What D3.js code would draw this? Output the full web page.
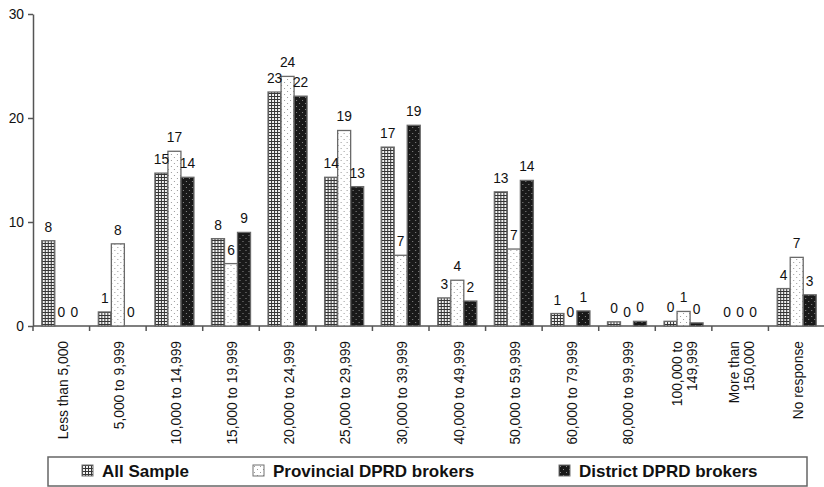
<!DOCTYPE html>
<html>
<head>
<meta charset="utf-8">
<script src="https://cdn.jsdelivr.net/npm/d3@7"></script>
<style>
  body { margin: 0; background: #fff; }
  svg { display: block; font-family: "Liberation Sans", Arial, sans-serif; }
</style>
</head>
<body>
<div id="chart"></div>
<script>
'use strict';

// income bands (rotated tick labels, \n = line break)
const categories = [
    'Less than 5,000', '5,000 to 9,999', '10,000 to 14,999', '15,000 to 19,999',
    '20,000 to 24,999', '25,000 to 29,999', '30,000 to 39,999', '40,000 to 49,999',
    '50,000 to 59,999', '60,000 to 79,999', '80,000 to 99,999', '100,000 to\n149,999',
    'More than\n150,000', 'No response'
];
const seriesNames = ['All Sample', 'Provincial DPRD brokers', 'District DPRD brokers'];
const allSample  = [8.2, 1.35, 14.7, 8.4, 22.5, 14.3, 17.2, 2.7, 12.9, 1.2, 0.4, 0.45, 0, 3.6];
const provincial = [0, 7.9, 16.8, 6.0, 24.0, 18.8, 6.8, 4.4, 7.4, 0, 0, 1.4, 0, 6.6];
const district   = [0, 0, 14.3, 9.0, 22.1, 13.4, 19.3, 2.4, 14.0, 1.45, 0.45, 0.3, 0, 3.0];
const yTicks = [0, 10, 20, 30];

const seriesValues = [allSample, provincial, district];
const patternIds = ['pat-grid', 'pat-light', 'pat-dark'];

const width = 824, height = 487;
const svg = d3.select('#chart').append('svg')
    .attr('width', width)
    .attr('height', height);

/*
* fill patterns: grid for all sample, sparse dots on white / black for the brokers
 */
const defs = svg.append('defs');

let grid = defs.append('pattern').attr('id', 'pat-grid')
    .attr('patternUnits', 'userSpaceOnUse').attr('width', 3).attr('height', 3);
grid.append('rect').attr('width', 3).attr('height', 3).attr('fill', '#353535');
grid.append('rect').attr('x', 1).attr('y', 1).attr('width', 2).attr('height', 2).attr('fill', '#f2f2f2');

let light = defs.append('pattern').attr('id', 'pat-light')
    .attr('patternUnits', 'userSpaceOnUse').attr('width', 6).attr('height', 6);
light.append('rect').attr('width', 6).attr('height', 6).attr('fill', '#ffffff');
light.append('rect').attr('x', 1).attr('y', 1).attr('width', 1).attr('height', 1).attr('fill', '#9a9a9a');
light.append('rect').attr('x', 4).attr('y', 4).attr('width', 1).attr('height', 1).attr('fill', '#9a9a9a');

let dark = defs.append('pattern').attr('id', 'pat-dark')
    .attr('patternUnits', 'userSpaceOnUse').attr('width', 6).attr('height', 6);
dark.append('rect').attr('width', 6).attr('height', 6).attr('fill', '#191919');
dark.append('rect').attr('x', 1).attr('y', 1).attr('width', 1).attr('height', 1).attr('fill', '#8a8a8a');
dark.append('rect').attr('x', 4).attr('y', 4).attr('width', 1).attr('height', 1).attr('fill', '#8a8a8a');

// scales
const x0 = d3.scaleBand()
    .domain(categories)
    .range([33, 825])
    .paddingInner(0.31)
    .paddingOuter(0.155);

const x1 = d3.scaleBand()
    .domain(seriesNames)
    .range([0, x0.bandwidth()]);

const y = d3.scaleLinear()
    .domain([0, 30])
    .range([326, 14]);

const axisColor = '#555';
const textColor = '#111';
const fontSize = 13.8;

/*
* axes
 */
let yAxis = svg.append('g')
    .attr('transform', 'translate(33,0)')
    .call(d3.axisLeft(y).tickValues(yTicks).tickSize(5).tickSizeOuter(0).tickPadding(4));
yAxis.select('.domain').attr('stroke', axisColor).attr('stroke-width', 1.5);
yAxis.selectAll('.tick line').attr('stroke', axisColor).attr('stroke-width', 1.5);
yAxis.selectAll('.tick text').attr('fill', textColor).attr('font-size', fontSize)
    .attr('font-family', '"Liberation Sans", Arial, sans-serif');

// x axis: line plus ticks at the band boundaries
let xAxis = svg.append('g').attr('id', 'x-axis');
xAxis.append('line')
    .attr('x1', 33).attr('x2', 825)
    .attr('y1', y(0)).attr('y2', y(0))
    .attr('stroke', axisColor).attr('stroke-width', 1.5);

const step = x0.step();
xAxis.selectAll('.xtick')
    .data(d3.range(categories.length + 1))
    .enter()
    .append('line')
    .attr('class', 'xtick')
    .attr('x1', function(i) { return 33 + i * step; })
    .attr('x2', function(i) { return 33 + i * step; })
    .attr('y1', y(0))
    .attr('y2', y(0) + 5)
    .attr('stroke', axisColor)
    .attr('stroke-width', 1.5);

let catLabels = xAxis.selectAll('.cat')
    .data(categories)
    .enter()
    .append('text')
    .attr('class', 'cat')
    .attr('transform', function(d) {
        return 'translate(' + (x0(d) + x0.bandwidth() / 2 + 1.5) + ',341) rotate(-90)';
    })
    .attr('text-anchor', 'end')
    .attr('font-size', fontSize)
    .attr('fill', textColor);

catLabels.each(function(d) {
    let lines = d.split('\n');
    let el = d3.select(this);
    lines.forEach(function(line, i) {
        let first = (0.35 - (lines.length - 1) * 0.55) + 'em';
        el.append('tspan')
            .attr('x', 0)
            .attr('dy', i === 0 ? first : '1.1em')
            .text(line);
    });
});

/*
* bars and value labels
 */
let groups = svg.append('g').attr('id', 'bars')
    .selectAll('.group')
    .data(categories)
    .enter()
    .append('g')
    .attr('class', 'group')
    .attr('transform', function(d) { return 'translate(' + x0(d) + ',0)'; });

groups.each(function(cat, ci) {
    let g = d3.select(this);
    let rows = seriesNames.map(function(name, si) {
        return { name: name, value: seriesValues[si][ci], pattern: patternIds[si] };
    });

    g.selectAll('rect')
        .data(rows.filter(function(r) { return r.value > 0; }))
        .enter()
        .append('rect')
        .attr('x', function(r) { return x1(r.name); })
        .attr('y', function(r) { return y(r.value); })
        .attr('width', x1.bandwidth())
        .attr('height', function(r) { return y(0) - y(r.value); })
        .attr('fill', function(r) { return 'url(#' + r.pattern + ')'; })
        .attr('stroke', '#6a6a6a')
        .attr('stroke-width', 1.3);

    g.selectAll('.val')
        .data(rows)
        .enter()
        .append('text')
        .attr('class', 'val')
        .attr('x', function(r) { return x1(r.name) + x1.bandwidth() / 2; })
        .attr('y', function(r) { return y(r.value) - 9; })
        .attr('text-anchor', 'middle')
        .attr('font-size', fontSize)
        .attr('fill', textColor)
        .text(function(r) { return Math.round(r.value); });
});

/*
* legend
 */
let legend = svg.append('g').attr('id', 'legend');
legend.append('rect')
    .attr('x', 48).attr('y', 457)
    .attr('width', 759).attr('height', 29)
    .attr('fill', '#fff')
    .attr('stroke', '#666')
    .attr('stroke-width', 1.5);

const legendX = [82, 253, 559];
let items = legend.selectAll('.item')
    .data(seriesNames)
    .enter()
    .append('g')
    .attr('class', 'item')
    .attr('transform', function(d, i) { return 'translate(' + legendX[i] + ',465)'; });

items.append('rect')
    .attr('width', 11).attr('height', 11)
    .attr('fill', function(d, i) { return 'url(#' + patternIds[i] + ')'; })
    .attr('stroke', '#707070')
    .attr('stroke-width', 1);

items.append('text')
    .attr('x', 20)
    .attr('y', 11.5)
    .attr('font-size', 17)
    .attr('font-weight', 'bold')
    .attr('fill', textColor)
    .text(function(d) { return d; });
</script>
</body>
</html>
